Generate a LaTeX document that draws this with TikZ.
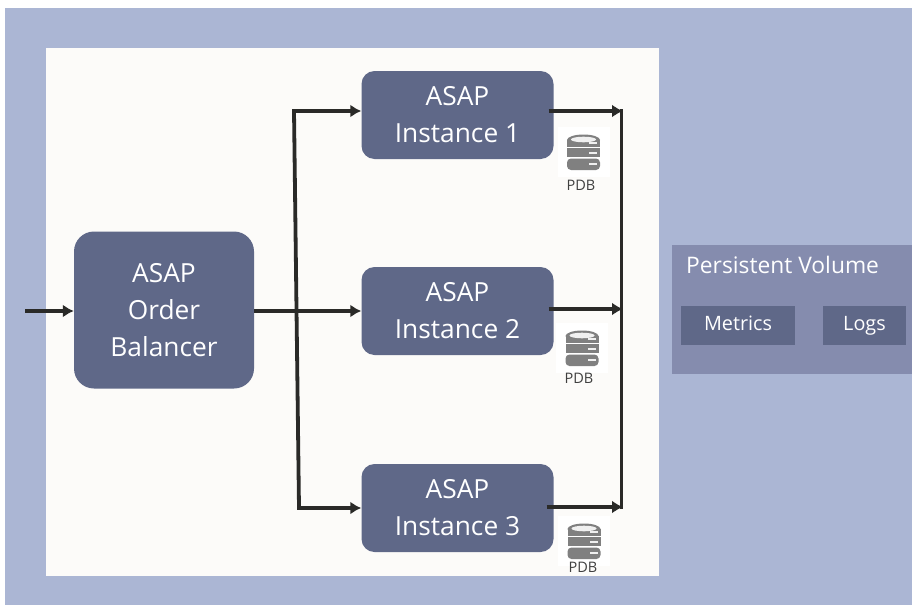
\documentclass[tikz,border=0pt]{standalone}
\usepackage{fontspec}
\setmainfont{Open Sans}
\usetikzlibrary{arrows.meta}
\definecolor{bluebg}{HTML}{ABB6D4}
\definecolor{panel}{HTML}{FCFBF9}
\definecolor{boxfill}{HTML}{5F6888}
\definecolor{pvfill}{HTML}{858CAE}
\definecolor{wire}{HTML}{2A2A28}
\definecolor{dbgray}{HTML}{808080}
\tikzset{
  x=1pt,y=-1pt,
  box/.style={fill=boxfill,text=white,rounded corners=#1,align=center,inner sep=0pt,font=\fontsize{26.3}{37}\selectfont},
  inst/.style={box=13pt,minimum width=192pt,minimum height=88pt},
  small/.style={fill=boxfill,text=white,inner sep=0pt,text height=15pt,text depth=4pt},
  wirestyle/.style={draw=wire,line width=3.8pt},
  arr/.style={wirestyle,-{Latex[length=11pt,width=13pt]}},
  pdblabel/.style={text=black!75,inner sep=0pt,font=\fontsize{14.5}{17}\selectfont},
  iconbg/.style={fill=white,draw=none},
}
\newcommand{\dbicon}[1]{%
  \begin{scope}[shift={(#1)}]
    \fill[iconbg] (-26,-25) rectangle (26,25);
    \fill[dbgray] (0,-12) ellipse (16.5 and 5.5);
    \fill[dbgray] (-16.5,-12) rectangle (16.5,-5.5);
    \fill[dbgray] (-16.5,-4.2) rectangle (16.5,5.2);
    \fill[dbgray,rounded corners=4pt] (-16.5,6.5) rectangle (16.5,18);
    \fill[white!88!gray] (0,-12.5) ellipse (12.5 and 2.8);
    \fill[white!88!gray] (5.5,-9.8) rectangle (13.5,-8.2);
    \fill[white!88!gray] (5.5,0.2) rectangle (13.5,1.8);
    \fill[white!88!gray] (5.5,11.2) rectangle (13.5,12.8);
  \end{scope}}
\begin{document}
\begin{tikzpicture}
\useasboundingbox (0,0) rectangle (912,605);
\fill[white] (0,0) rectangle (912,605);
\fill[bluebg] (5,8) rectangle (912,605);
\fill[panel] (46,48) rectangle (659,576);
\fill[pvfill] (672,245) rectangle (912,374);

\dbicon{583.5,152}
\dbicon{582,348}
\dbicon{584,541}

\node[box=20pt,minimum width=180pt,minimum height=157pt] (lb) at (164,310) {ASAP\\Order\\Balancer};
\node[inst] (i1) at (457.5,115) {ASAP\\Instance 1};
\node[inst] (i2) at (457.5,311) {ASAP\\Instance 2};
\node[inst] (i3) at (457.5,508) {ASAP\\Instance 3};

\node[pdblabel] (p1) at (581,185) {PDB};
\node[pdblabel] (p2) at (579,378) {PDB};
\node[pdblabel] (p3) at (583,567) {PDB};

\node[text=white,inner sep=0pt,anchor=west,font=\fontsize{22.8}{25}\selectfont] (pv) at (686,265) {Persistent Volume};
\node[small,minimum width=114pt,minimum height=39pt,font=\fontsize{19.8}{24}\selectfont] (m) at (738,325) {Metrics};
\node[small,minimum width=83pt,minimum height=39pt,font=\fontsize{19.8}{24}\selectfont] (l) at (864.5,325) {Logs};

\coordinate (in) at (25,311);
\coordinate (j) at (296,311);
\coordinate (t) at (294,111);
\coordinate (b) at (299,508);
\coordinate (o1) at (623,111);
\coordinate (o2) at (623,309);
\coordinate (o3) at (623,507);
\coordinate (bt) at (621.5,109);
\coordinate (bb) at (621.5,509);

\draw[arr] (in) -- (lb.west |- in);
\draw[arr] (lb.east |- j) -- (i2.west |- j);
\draw[wirestyle] (t) -- (b);
\draw[arr] (t) ++(-1.9,0) -- (i1.west |- t);
\draw[arr] (b) ++(-1.9,0) -- (i3.west |- b);
\draw[wirestyle] (bt) -- (bb);
\draw[arr] ([xshift=-5pt]i1.east |- o1) -- (o1);
\draw[arr] ([xshift=-5pt]i2.east |- o2) -- (o2);
\draw[arr] ([xshift=-7pt]i3.east |- o3) -- (o3);
\end{tikzpicture}
\end{document}
